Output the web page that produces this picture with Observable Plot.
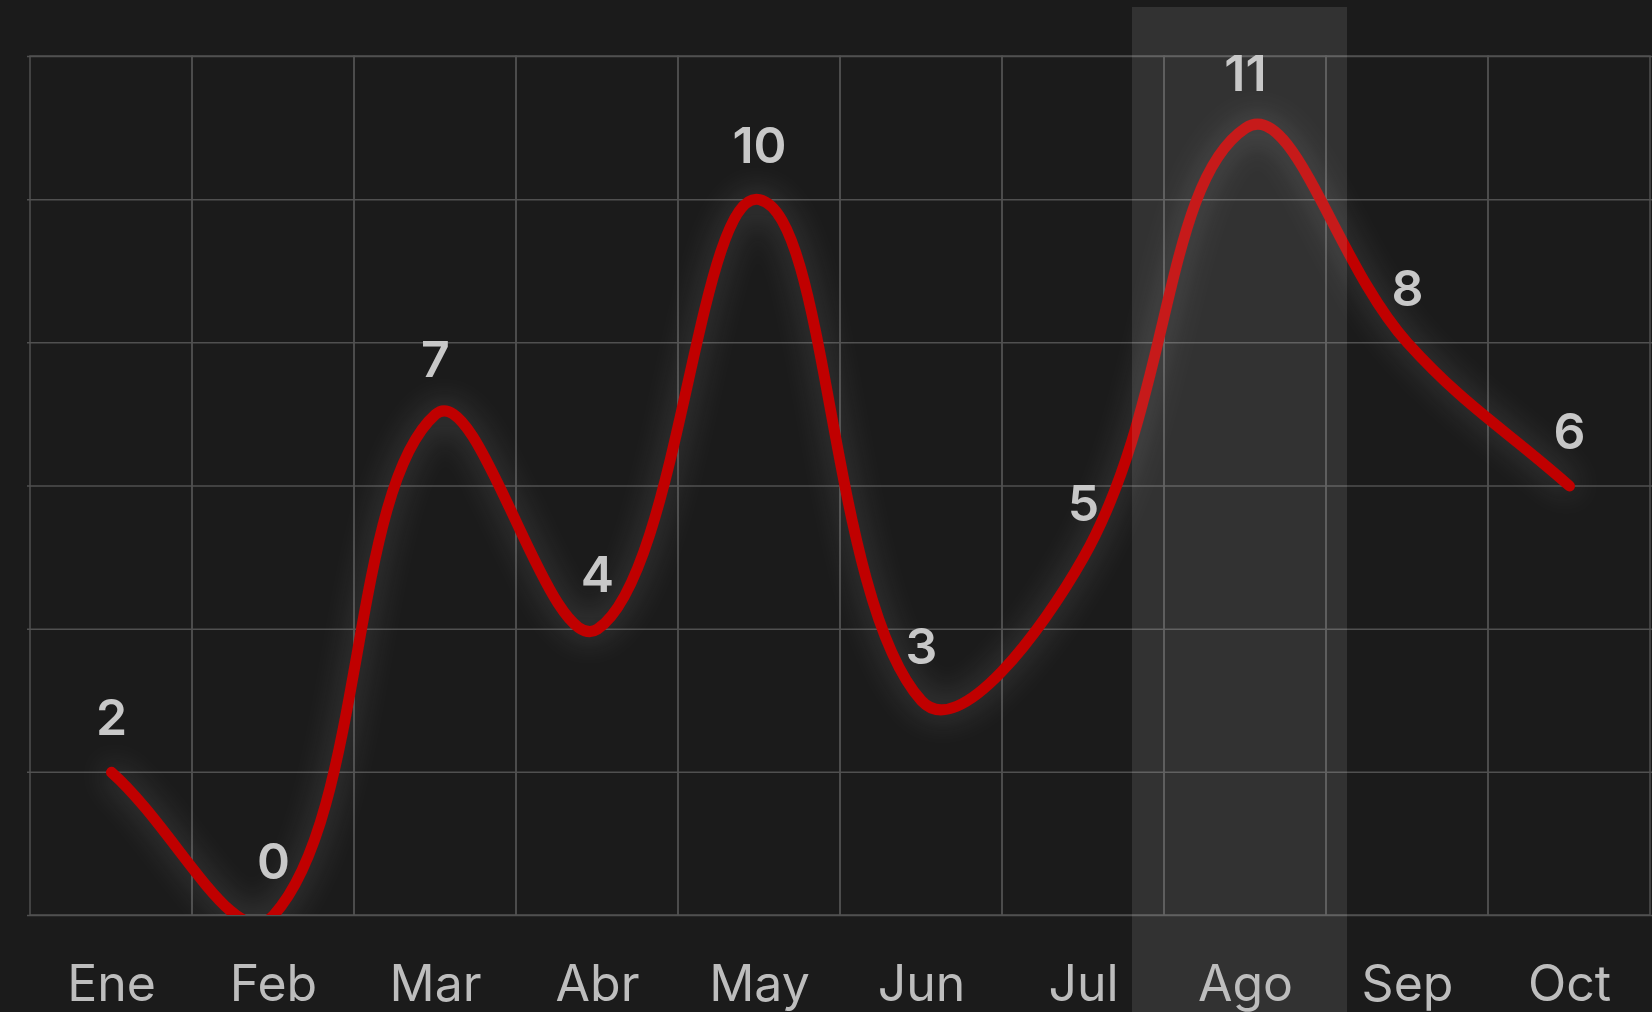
<!DOCTYPE html>
<html><head><meta charset="utf-8">
<script src="https://cdn.jsdelivr.net/npm/d3@7"></script>
<script src="https://cdn.jsdelivr.net/npm/@observablehq/plot@0.6"></script>
<style>html,body{margin:0;padding:0;background:#1b1b1b;overflow:hidden}</style>
</head><body><div id="chart"></div>
<script>
const months = ["Ene","Feb","Mar","Abr","May","Jun","Jul","Ago","Sep","Oct"];
const values = [2,0,7,4,10,3,5,11,8,6];
const highlightMonth = "Ago";
const yTicks = [0,2,4,6,8,10,12];

const data = months.map((m,i)=>({month:m, value:values[i]}));
const gridColor = "#505050";

// Distance-weighted cubic spline (tension 0.4), as a d3-style curve factory
function splineCurve(tension){
  return function(context){
    let pts;
    return {
      areaStart(){}, areaEnd(){},
      lineStart(){ pts = []; },
      point(x, y){ pts.push([+x, +y]); },
      lineEnd(){
        const n = pts.length;
        if (!n) return;
        const cps = pts.map((p, i) => {
          const prev = pts[Math.max(0, i - 1)], next = pts[Math.min(n - 1, i + 1)];
          const d01 = Math.hypot(p[0] - prev[0], p[1] - prev[1]);
          const d12 = Math.hypot(next[0] - p[0], next[1] - p[1]);
          let s01 = d01 / (d01 + d12), s12 = d12 / (d01 + d12);
          if (!isFinite(s01)) s01 = 0;
          if (!isFinite(s12)) s12 = 0;
          const fa = tension * s01, fb = tension * s12;
          const vx = next[0] - prev[0], vy = next[1] - prev[1];
          return {a:[p[0] - fa * vx, p[1] - fa * vy], b:[p[0] + fb * vx, p[1] + fb * vy]};
        });
        context.moveTo(pts[0][0], pts[0][1]);
        for (let i = 1; i < n; i++) {
          context.bezierCurveTo(cps[i-1].b[0], cps[i-1].b[1], cps[i].a[0], cps[i].a[1], pts[i][0], pts[i][1]);
        }
      }
    };
  };
}

const chart = Plot.plot({
  width:1652, height:1012,
  marginTop:56, marginBottom:97, marginLeft:27, marginRight:0,
  style:{background:"#1b1b1b", fontFamily:"Inter, 'DejaVu Sans', sans-serif", overflow:"visible"},
  x:{type:"band", domain:months, padding:0, axis:null, label:null},
  y:{domain:[0,12], axis:null},
  marks:[
    Plot.barY(months, {x:d=>d, y1:0, y2:12, fill:"none", stroke:gridColor, strokeWidth:1.5}),
    Plot.ruleY(yTicks, {stroke:gridColor, strokeWidth:1.5}),
    Plot.line(data, {x:"month", y:"value", curve:splineCurve(0.4), stroke:"#c00000", strokeWidth:11, strokeLinecap:"round", clip:true}),
    Plot.barY([highlightMonth], {x:d=>d, y1:0, y2:12, fill:"white", fillOpacity:0.1, insetTop:-49, insetBottom:-97, insetLeft:-32, insetRight:-21}),
    Plot.text(data, {x:"month", y:"value", text:d=>String(d.value), dy:-53, fontSize:50, fontWeight:600, fill:"#c8c8c8"}),
    Plot.axisX({tickSize:0, tickPadding:50, fontSize:50, fill:"#bdbdbd", fontWeight:400, label:null})
  ]
});
const linePath = chart.querySelector('g[aria-label="line"] path');
if (linePath) linePath.style.filter = "drop-shadow(0 0 16px rgba(170,170,170,0.38))";
document.getElementById("chart").appendChild(chart);
</script>
</body></html>
